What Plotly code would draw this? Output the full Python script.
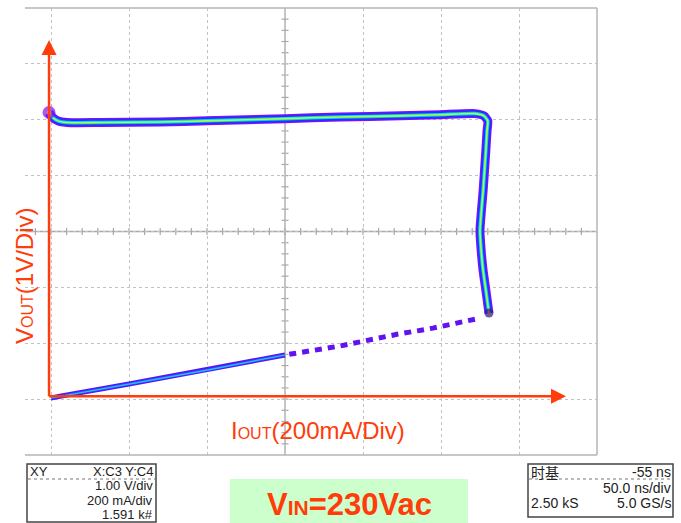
import plotly.graph_objects as go

# ---- Measured V-I locus (XY mode: X = output current, Y = output voltage) ----
# Constant-voltage plateau, then the constant-current knee going down
cv_current_ma = [-5, 3, 18, 41, 126, 279, 400, 600, 741, 895, 997, 1087, 1110, 1120]
cv_voltage_v = [5.13, 5.05, 4.98, 4.95, 4.95, 4.96, 4.98, 5.02, 5.05, 5.07, 5.09, 5.11, 5.07, 4.98]
cc_current_ma = [1120, 1118, 1115, 1108, 1100, 1103, 1108, 1115, 1123]
cc_voltage_v = [4.98, 4.80, 4.45, 3.73, 3.02, 2.66, 2.30, 1.95, 1.54]
# Fast return path (sparse, shows as dashes) and the denser low part near 0
ret_current_ma = [1087, 979, 887, 800, 741, 600]
ret_voltage_v = [1.43, 1.27, 1.16, 1.04, 0.95, 0.79]
low_current_ma = [600, 400, 200, 23, 0]
low_voltage_v = [0.79, 0.52, 0.27, 0.05, 0.02]

# Scope settings
x_div_ma = 200
y_div_v = 1
x_range = [-66.67, 1400]
y_range = [-1, 7]
x_center = 600
y_center = 3

W, H = 681, 523
ML, MR, MT, MB = 25, 84, 8, 68
PW, PH = W - ML - MR, H - MT - MB
px_per_ma = PW / (x_range[1] - x_range[0])
px_per_v = PH / (y_range[1] - y_range[0])


def pxx(x):
    return (x - ML) / PW


def pxy(y):
    return (MT + PH - y) / PH


ORANGE = "#ff3c0a"
FONT = "Liberation Sans, Arial, sans-serif"

fig = go.Figure()

main_i = cv_current_ma + cc_current_ma[1:]
main_v = cv_voltage_v + cc_voltage_v[1:]

# persistence-style colour layers (outer halo to hot core)
for width, color in [(9, "#7a10ff"), (6.5, "#2430ff"), (3.5, "#00cfff"), (1.6, "#a8ff3c")]:
    fig.add_trace(go.Scatter(x=main_i, y=main_v, mode="lines",
                             line=dict(color=color, width=width, shape="spline", smoothing=0.5),
                             hoverinfo="skip"))

for width, color in [(5, "#5a14f0"), (2.5, "#2a50ff"), (1.2, "#22c8ff")]:
    fig.add_trace(go.Scatter(x=low_current_ma, y=low_voltage_v, mode="lines",
                             line=dict(color=color, width=width), hoverinfo="skip"))

fig.add_trace(go.Scatter(x=ret_current_ma, y=ret_voltage_v, mode="lines",
                         line=dict(color="#6012f0", width=5, dash="7px,6px"),
                         hoverinfo="skip"))

# start blob and end point of the knee
fig.add_trace(go.Scatter(x=[cv_current_ma[0], cc_current_ma[-1]], y=[cv_voltage_v[0], cc_voltage_v[-1]],
                         mode="markers",
                         marker=dict(size=[13, 9], color=["#7a10ff", "#1d1d8f"], line=dict(width=0)),
                         hoverinfo="skip"))
fig.add_trace(go.Scatter(x=[cv_current_ma[0], cc_current_ma[-1]], y=[cv_voltage_v[0], cc_voltage_v[-1]],
                         mode="markers",
                         marker=dict(size=[5, 3], color=["#ff9a10", "#ff2a00"], line=dict(width=0)),
                         hoverinfo="skip"))

shapes = []
grey = "#b4b4b4"
# screen border (top, right, bottom)
for x0, y0, x1, y1 in [(0, 1, 1, 1), (1, 0, 1, 1), (0, 0, 1, 0)]:
    shapes.append(dict(type="line", xref="paper", yref="paper", x0=x0, y0=y0, x1=x1, y1=y1,
                       line=dict(color=grey, width=1.5), layer="below"))
# centre crosshair with minor ticks (5 per division)
shapes.append(dict(type="line", xref="x", yref="paper", x0=x_center, x1=x_center, y0=0, y1=1,
                   line=dict(color="#a8a8a8", width=1.3), layer="below"))
shapes.append(dict(type="line", xref="paper", yref="y", x0=0, x1=1, y0=y_center, y1=y_center,
                   line=dict(color="#a8a8a8", width=1.3), layer="below"))
step = x_div_ma / 5
k = int(x_range[0] // step) + 1
while k * step < x_range[1]:
    shapes.append(dict(type="line", xref="x", yref="y", x0=k * step, x1=k * step,
                       ysizemode="pixel", yanchor=y_center, y0=-3.5, y1=3.5,
                       line=dict(color="#a8a8a8", width=1.2), layer="below"))
    k += 1
step = y_div_v / 5
k = int(y_range[0] / step) + 1
while k * step < y_range[1] - 1e-9:
    shapes.append(dict(type="line", xref="x", yref="y", y0=k * step, y1=k * step,
                       xsizemode="pixel", xanchor=x_center, x0=-3.5, x1=3.5,
                       line=dict(color="#a8a8a8", width=1.2), layer="below"))
    k += 1

# orange axis arrows
ox, oy = -5, 0.05
v_top, h_end = 6.16, 1282
head_len_px, head_half_px = 15, 7.5
shapes.append(dict(type="line", xref="x", yref="y", x0=ox, y0=oy, x1=ox, y1=v_top,
                   line=dict(color=ORANGE, width=2.5)))
shapes.append(dict(type="line", xref="x", yref="y", x0=ox, y0=oy, x1=h_end, y1=oy,
                   line=dict(color=ORANGE, width=2.5)))
hw = head_half_px / px_per_ma
hl = head_len_px / px_per_v
shapes.append(dict(type="path", xref="x", yref="y",
                   path=f"M{ox - hw},{v_top} L{ox + hw},{v_top} L{ox},{v_top + hl} Z",
                   fillcolor=ORANGE, line=dict(color=ORANGE, width=0)))
hl = head_len_px / px_per_ma
hw = head_half_px / px_per_v
shapes.append(dict(type="path", xref="x", yref="y",
                   path=f"M{h_end},{oy - hw} L{h_end},{oy + hw} L{h_end + hl},{oy} Z",
                   fillcolor=ORANGE, line=dict(color=ORANGE, width=0)))

# info boxes under the screen
shapes.append(dict(type="rect", xref="paper", yref="paper", x0=pxx(27), x1=pxx(156), y0=pxy(464), y1=pxy(522),
                   line=dict(color="#444444", width=1.5)))
shapes.append(dict(type="line", xref="paper", yref="paper", x0=pxx(28), x1=pxx(155), y0=pxy(479), y1=pxy(479),
                   line=dict(color="#777777", width=1, dash="dot")))
shapes.append(dict(type="rect", xref="paper", yref="paper", x0=pxx(528), x1=pxx(673), y0=pxy(464), y1=pxy(517),
                   line=dict(color="#444444", width=1.5)))
shapes.append(dict(type="line", xref="paper", yref="paper", x0=pxx(529), x1=pxx(672), y0=pxy(479), y1=pxy(479),
                   line=dict(color="#777777", width=1, dash="dot")))
shapes.append(dict(type="rect", xref="paper", yref="paper", x0=pxx(230), x1=pxx(468), y0=pxy(479), y1=pxy(530),
                   fillcolor="#ccffcc", line=dict(width=0), layer="below"))

ann = []


def txt(text, x, y, anchor, size=13, color="#222222", family=FONT, **kw):
    ann.append(dict(text=text, xref="paper", yref="paper", x=pxx(x), y=pxy(y), xanchor=anchor,
                    yanchor="middle", showarrow=False, borderpad=0,
                    font=dict(family=family, size=size, color=color), **kw))


txt("XY", 29, 471.5, "left")
txt("X:C3 Y:C4", 154, 471.5, "right")
txt("1.00 V/div", 154, 485.5, "right")
txt("200 mA/div", 154, 500, "right")
txt("1.591 k#", 154, 514.5, "right")

txt("时基", 530, 471.5, "left", size=14, family="Noto Sans CJK SC")
txt("-55 ns", 672, 471.5, "right", size=14)
txt("50.0 ns/div", 672, 487.5, "right", size=14)
txt("2.50 kS", 530, 503, "left", size=14)
txt("5.0 GS/s", 672, 503, "right", size=14)

txt("V<span style='font-size:16px'>OUT</span>(1V/Div)", 24, 276, "center", size=24, color=ORANGE, textangle=-90)
txt("I<span style='font-size:16px'>OUT</span>(200mA/Div)", 318, 430, "center", size=24, color=ORANGE)
txt("<b>V<span style='font-size:21px'>IN</span>=230Vac</b>", 349, 505, "center", size=31, color=ORANGE)

axis_common = dict(showgrid=True, gridcolor="#c2c2c2", griddash="dot", gridwidth=1, zeroline=False,
                   showticklabels=False, ticks="", showline=False, fixedrange=True)
fig.update_layout(
    width=W, height=H, margin=dict(l=ML, r=MR, t=MT, b=MB),
    paper_bgcolor="white", plot_bgcolor="white", showlegend=False,
    xaxis=dict(range=x_range, tick0=0, dtick=x_div_ma, **axis_common),
    yaxis=dict(range=y_range, tick0=0, dtick=y_div_v, **axis_common),
    shapes=shapes, annotations=ann,
)

fig.write_html("out.html")
